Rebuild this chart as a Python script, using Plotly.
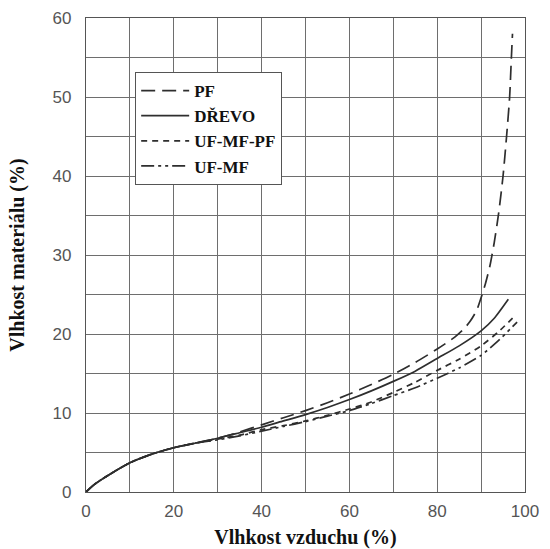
import plotly.graph_objects as go

# Data (x: air humidity %, y: material moisture %)
x_pf = [0, 2, 5, 10, 15, 20, 25, 30, 35, 40, 45, 50, 55, 60, 65, 70, 75, 80, 84, 86, 87.5, 89, 90, 91, 92, 93, 94, 95, 95.8, 96.5, 96.9, 97.15]
y_pf = [0, 1.0, 2.1, 3.7, 4.8, 5.6, 6.2, 6.8, 7.6, 8.5, 9.4, 10.3, 11.3, 12.4, 13.6, 14.9, 16.4, 18.1, 19.6, 20.6, 21.6, 23.0, 24.6, 26.4, 28.6, 31.6, 35.3, 40.0, 45.0, 50.0, 55.0, 58.0]

x_drevo = [0, 2, 5, 10, 15, 20, 25, 30, 35, 40, 45, 50, 55, 60, 65, 70, 75, 80, 85, 90, 93, 96.2]
y_drevo = [0, 1.0, 2.1, 3.7, 4.8, 5.6, 6.2, 6.8, 7.5, 8.2, 9.0, 9.8, 10.7, 11.7, 12.8, 14.0, 15.3, 16.9, 18.5, 20.4, 22.0, 24.4]

x_ufmfpf = [0, 2, 5, 10, 15, 20, 25, 30, 35, 40, 45, 50, 55, 60, 65, 70, 75, 80, 85, 90, 94, 97.7]
y_ufmfpf = [0, 1.0, 2.1, 3.7, 4.8, 5.6, 6.2, 6.7, 7.2, 7.9, 8.4, 9.0, 9.7, 10.5, 11.4, 12.6, 13.9, 15.4, 16.8, 18.5, 20.3, 22.3]

x_ufmf = [0, 2, 5, 10, 15, 20, 25, 30, 35, 40, 45, 50, 55, 60, 65, 70, 75, 80, 85, 90, 94, 98.2]
y_ufmf = [0, 1.0, 2.1, 3.7, 4.8, 5.6, 6.2, 6.6, 7.1, 7.7, 8.3, 8.9, 9.6, 10.3, 11.2, 12.2, 13.2, 14.4, 15.7, 17.3, 19.2, 21.5]

names = ["PF", "DŘEVO", "UF-MF-PF", "UF-MF"]
dashes = ["14px,7px", "solid", "6px,5px", "13px,4px,3px,4px,3px,4px"]

x_ticks = [0, 20, 40, 60, 80, 100]
y_ticks = [0, 10, 20, 30, 40, 50, 60]

line_color = "#2e2e2e"
grid_color = "#6e6e6e"

fig = go.Figure()
for xs, ys, name, dash in zip(
    [x_pf, x_drevo, x_ufmfpf, x_ufmf],
    [y_pf, y_drevo, y_ufmfpf, y_ufmf],
    names, dashes,
):
    fig.add_trace(go.Scatter(
        x=xs, y=ys, mode="lines", name=name,
        line=dict(color=line_color, width=1.7, dash=dash, shape="spline", smoothing=0.6),
    ))

fig.update_layout(
    width=550, height=549,
    margin=dict(l=86, r=25, t=18, b=57, autoexpand=False),
    paper_bgcolor="white", plot_bgcolor="white",
    showlegend=True,
    legend=dict(
        x=0.112, y=0.886, xanchor="left", yanchor="top",
        bgcolor="white", bordercolor="#555555", borderwidth=1,
        font=dict(family="Liberation Serif", size=17, color="#111111", weight="bold"),
        tracegroupgap=0, itemwidth=48,
    ),
)

fig.update_xaxes(
    range=[0, 100], tickvals=x_ticks, ticktext=[str(v) for v in x_ticks],
    showgrid=True, gridcolor=grid_color, gridwidth=1,
    minor=dict(dtick=10, tick0=0, showgrid=True, gridcolor=grid_color, gridwidth=1),
    showline=True, linecolor="#555555", linewidth=1.2, mirror=True,
    zeroline=False, ticks="", ticklabelstandoff=3, automargin=False,
    tickfont=dict(family="Liberation Sans", size=17, color="#555555"),
    title=dict(text="Vlhkost vzduchu (%)", standoff=14,
               font=dict(family="Liberation Serif", size=20, color="#111111", weight="bold")),
)
fig.update_yaxes(
    range=[0, 60], tickvals=y_ticks, ticktext=[str(v) for v in y_ticks],
    showgrid=True, gridcolor=grid_color, gridwidth=1,
    minor=dict(dtick=5, tick0=0, showgrid=True, gridcolor=grid_color, gridwidth=1),
    showline=True, linecolor="#555555", linewidth=1.2, mirror=True,
    zeroline=False, ticks="", ticklabelstandoff=10, automargin=False,
    tickfont=dict(family="Liberation Sans", size=17, color="#555555"),
    title=dict(text="Vlhkost materiálu (%)", standoff=22,
               font=dict(family="Liberation Serif", size=20, color="#111111", weight="bold")),
)

fig.write_html("out.html")
